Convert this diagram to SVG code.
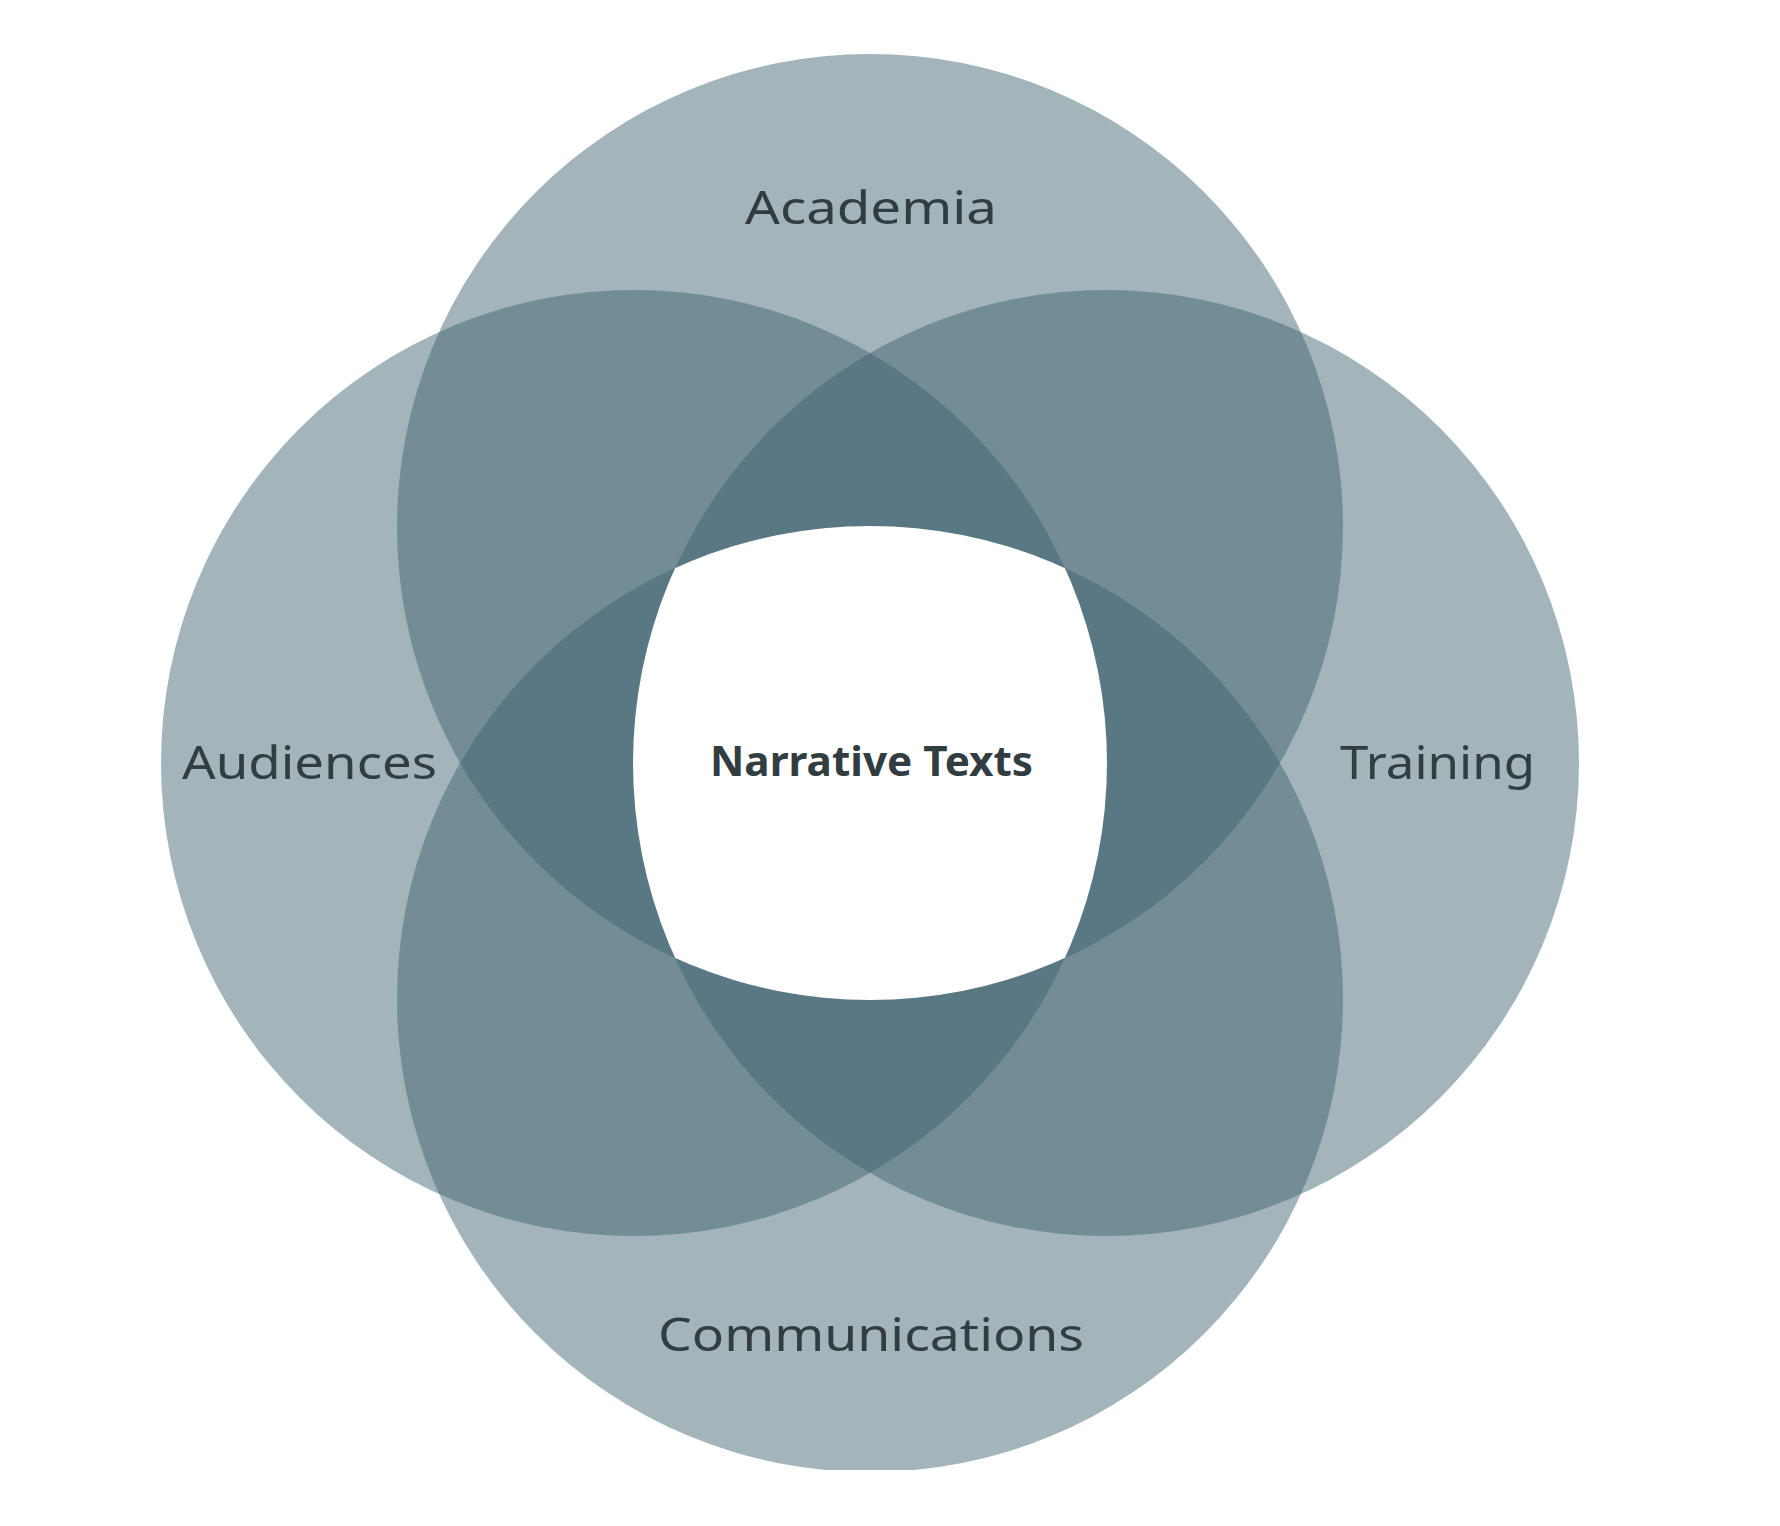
<svg xmlns="http://www.w3.org/2000/svg" width="1780" height="1526" viewBox="0 0 1780 1526">
  <style>
    .c { fill: #3e636e; fill-opacity: 0.48; }
    .lbl { font-family: "Noto Sans", "Open Sans", sans-serif; font-size: 46px; fill: #323d42; text-anchor: middle; }
    .ctr { font-family: "Noto Sans", "Open Sans", sans-serif; font-size: 41px; font-weight: bold; fill: #323d42; text-anchor: middle; }
  </style>
  <defs>
    <clipPath id="page"><rect x="0" y="0" width="1780" height="1470"/></clipPath>
    <clipPath id="cT"><circle cx="870" cy="527" r="473"/></clipPath>
    <clipPath id="cL"><circle cx="634" cy="763" r="473"/></clipPath>
    <clipPath id="cR"><circle cx="1106" cy="763" r="473"/></clipPath>
    <clipPath id="cB"><circle cx="870" cy="999" r="473"/></clipPath>
  </defs>
  <rect width="1780" height="1526" fill="#ffffff"/>
  <g id="circles" clip-path="url(#page)">
    <g id="academia"><circle class="c" cx="870" cy="527" r="473"/></g>
    <g id="audiences"><circle class="c" cx="634" cy="763" r="473"/></g>
    <g id="training"><circle class="c" cx="1106" cy="763" r="473"/></g>
    <g id="communications"><circle class="c" cx="870" cy="999" r="473"/></g>
  </g>
  <g id="narrative-texts">
    <g clip-path="url(#cT)"><g clip-path="url(#cL)"><g clip-path="url(#cR)">
      <rect x="300" y="300" width="1200" height="1000" fill="#ffffff" clip-path="url(#cB)"/>
    </g></g></g>
    <text class="ctr" x="871.5" y="776" textLength="323" lengthAdjust="spacingAndGlyphs">Narrative Texts</text>
  </g>
  <g id="labels">
    <text class="lbl" x="871" y="224" textLength="252" lengthAdjust="spacingAndGlyphs">Academia</text>
    <text class="lbl" x="309.5" y="779" textLength="255" lengthAdjust="spacingAndGlyphs">Audiences</text>
    <text class="lbl" x="1437.5" y="779" textLength="195" lengthAdjust="spacingAndGlyphs">Training</text>
    <text class="lbl" x="871" y="1351" textLength="426" lengthAdjust="spacingAndGlyphs">Communications</text>
  </g>
  <g id="connectors"/>
</svg>
